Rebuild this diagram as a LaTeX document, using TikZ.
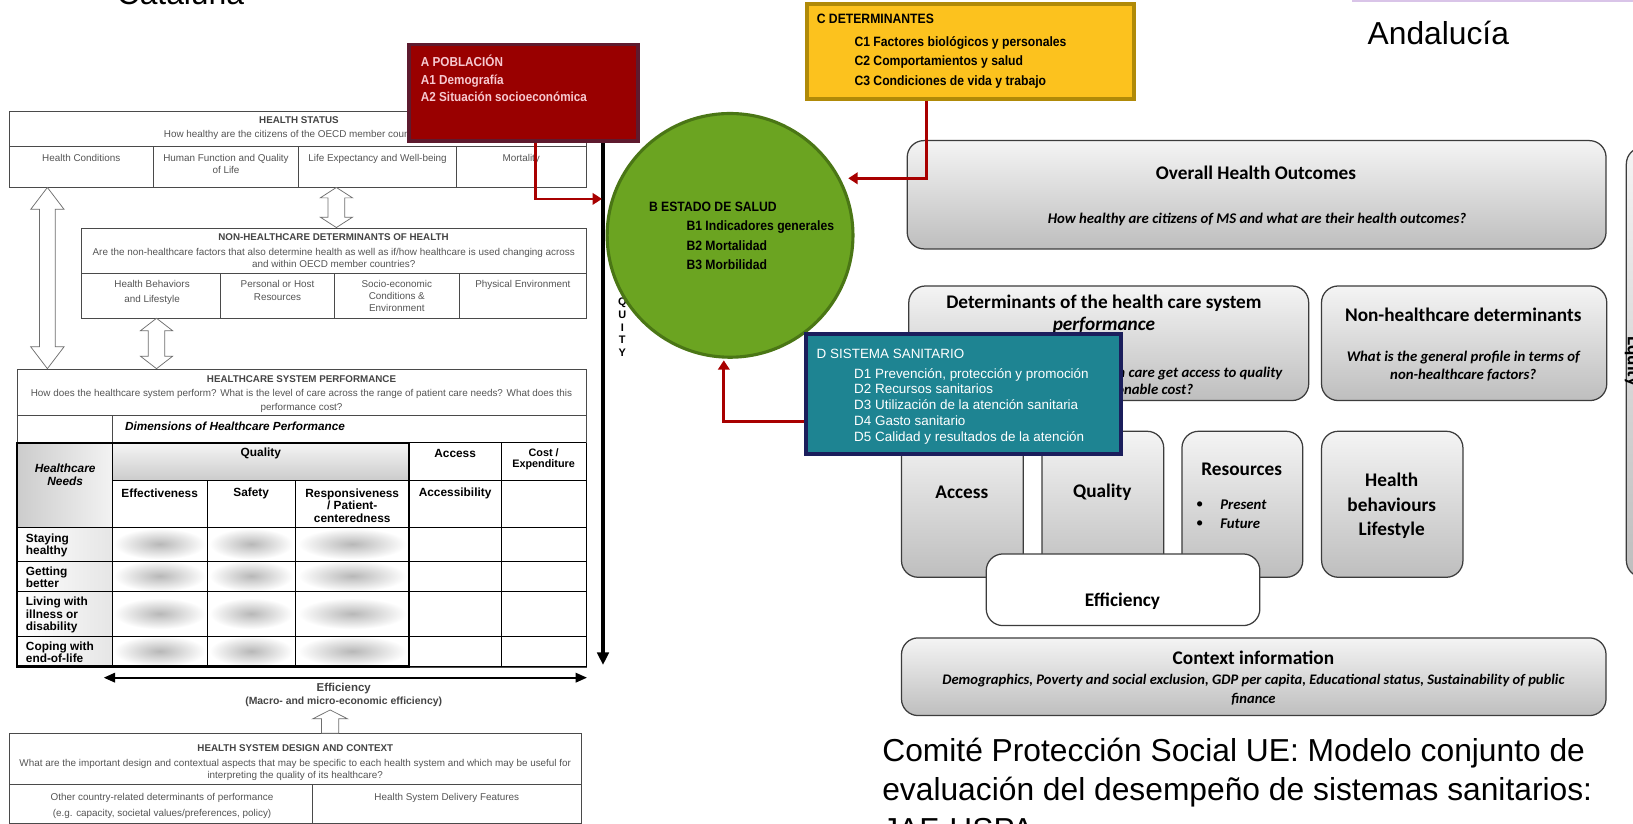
\documentclass[tikz,border=0pt]{standalone}
\usepackage{fontspec}
\setmainfont{Liberation Sans}
\newfontfamily\condf[FakeStretch=0.9]{Liberation Sans}
\newfontfamily\calf{Carlito}
\usetikzlibrary{arrows.meta,shapes.geometric,calc}
\definecolor{gline}{HTML}{4A4A4A}
\definecolor{gtext}{HTML}{555555}
\definecolor{redfill}{HTML}{990000}
\definecolor{redbord}{HTML}{5E1A2E}
\definecolor{atext}{HTML}{F6C9D0}
\definecolor{grfill}{HTML}{6BA421}
\definecolor{grbord}{HTML}{4A7615}
\definecolor{yefill}{HTML}{FCC21E}
\definecolor{yebord}{HTML}{B08A08}
\definecolor{tefill}{HTML}{1E8492}
\definecolor{tebord}{HTML}{1B1E5C}
\definecolor{redc}{HTML}{A80000}
\definecolor{rtop}{HTML}{F4F4F4}
\definecolor{rbot}{HTML}{BEBEBE}
\definecolor{rbord}{HTML}{3C3C3C}
\definecolor{purp}{HTML}{D9C4E8}
\newcommand\mybox[6]{\node[#1,anchor=north west,minimum width=#4pt-#2pt,minimum height=#5pt-#3pt,inner sep=0pt] (#6) at (#2,#3) {};}
\newcommand\vdarrow[6]{\draw[hollow] (#1,#2) -- (#1+#4,#2+#6) -- (#1+#5,#2+#6) -- (#1+#5,#3-#6) -- (#1+#4,#3-#6) -- (#1,#3) -- (#1-#4,#3-#6) -- (#1-#5,#3-#6) -- (#1-#5,#2+#6) -- (#1-#4,#2+#6) -- cycle;}
\newcommand\vuarrow[6]{\draw[hollow] (#1,#2) -- (#1+#4,#2+#6) -- (#1+#5,#2+#6) -- (#1+#5,#3) -- (#1-#5,#3) -- (#1-#5,#2+#6) -- (#1-#4,#2+#6) -- cycle;}
\begin{document}
\begin{tikzpicture}[x=1pt,y=-1pt,
  gbox/.style={draw=gline,line width=0.8pt,fill=white},
  gl/.style={draw=gline,line width=0.8pt},
  tl/.style={draw=black,line width=0.8pt},
  gt/.style={text=gtext,inner sep=0pt,font=\fontsize{9.5}{12.2}\selectfont,align=center},
  gtb/.style={text=gtext!80!black,inner sep=0pt,font=\bfseries\fontsize{9.4}{11}\selectfont},
  tbl/.style={inner sep=0pt,font=\bfseries\fontsize{11.4}{11.8}\selectfont,align=center},
  tbll/.style={inner sep=0pt,font=\bfseries\fontsize{11.4}{11.6}\selectfont,align=left,anchor=north west},
  hollow/.style={draw=gline!80,fill=white,line width=0.7pt},
  redarr/.style={draw=redc,line width=2.6pt,-{Triangle[length=9pt,width=11pt]}},
  rbox/.style={draw=rbord,line width=1.2pt,rounded corners=16pt,top color=rtop,bottom color=rbot},
  rboxw/.style={draw=rbord,line width=1.2pt,rounded corners=16pt,fill=white},
  rt/.style={font=\calf\bfseries\fontsize{18.5}{22}\selectfont,inner sep=0pt,align=center},
  rs/.style={font=\calf\bfseries\itshape\fontsize{14.2}{17.5}\selectfont,inner sep=0pt,align=center},
  cond/.style={font=\condf\bfseries\fontsize{13}{18}\selectfont,inner sep=0pt,align=left},
  bigt/.style={font=\fontsize{30.5}{36}\selectfont,inner sep=0pt}]
\useasboundingbox (0,0) rectangle (1568,791);
\fill[white] (0,0) rectangle (1568,791);
% ---------- titles
\node[bigt,anchor=base west] (catT) at (112,4.8) {Cataluña};
\node[bigt,anchor=base west] (andT) at (1313,43.2) {Andalucía};
\node[bigt,anchor=base west] (com1) at (847,731) {Comité Protección Social UE: Modelo conjunto de};
\node[bigt,anchor=base west] (com2) at (847,769) {evaluación del desempeño de sistemas sanitarios:};
\node[bigt,anchor=base west] (com3) at (847,807) {JAF-HSPA};
\fill[purp] (1297.7,0) rectangle (1568,1.8);
% ---------- HEALTH STATUS
\mybox{gbox}{9}{107}{563}{180}{hs}
\draw[gl] (9,141) -- (563,141);
\foreach \xx in {147,287,438} {\draw[gl] (\xx,141) -- (\xx,180);}
\node[gtb] (hsT) at (287,115.5) {HEALTH STATUS};
\node[gt] (hsS) at (287,130) {How healthy are the citizens of the OECD member countries?};
\node[gt,anchor=north] (hs1) at (78,147.6) {Health Conditions};
\node[gt,anchor=north] (hs2) at (217,147.6) {Human Function and Quality\\of Life};
\node[gt,anchor=north] (hs3) at (362.5,147.6) {Life Expectancy and Well-being};
\node[gt,anchor=north] (hs4) at (500.5,147.6) {Mortality};
% ---------- NON-HEALTHCARE
\mybox{gbox}{78}{218.5}{563}{305.6}{nh}
\draw[gl] (78,262.4) -- (563,262.4);
\foreach \xx in {211.5,321.2,441.1} {\draw[gl] (\xx,262.4) -- (\xx,305.6);}
\node[gtb] (nhT) at (320.2,227.8) {NON-HEALTHCARE DETERMINANTS OF HEALTH};
\node[gt,anchor=north] (nhS) at (320.5,238) {Are the non-healthcare factors that also determine health as well as if/how healthcare is used changing across\\and within OECD member countries?};
\node[gt,anchor=north,font=\fontsize{9.5}{14.4}\selectfont] (nh1) at (146,269.4) {Health Behaviors\\and Lifestyle};
\node[gt,anchor=north,font=\fontsize{9.5}{11.8}\selectfont] (nh2) at (266.5,269.4) {Personal or Host\\Resources};
\node[gt,anchor=north,font=\fontsize{9.5}{11.5}\selectfont] (nh3) at (381,269.4) {Socio-economic\\Conditions \&\\Environment};
\node[gt,anchor=north] (nh4) at (502,269.4) {Physical Environment};
% ---------- HEALTHCARE SYSTEM PERFORMANCE
\mybox{gbox}{16}{354}{563}{640}{hsp}
\node[gtb] (hspT) at (289.5,364) {HEALTHCARE SYSTEM PERFORMANCE};
\node[gt,anchor=north,font=\fontsize{9.5}{12.9}\selectfont] (hspS) at (289.5,374) {How does the healthcare system perform? What is the level of care across the range of patient care needs? What does this\\performance cost?};
\draw[gl] (16,398.5) -- (563,398.5);
\draw[gl] (107.8,398.5) -- (107.8,425);
\node[inner sep=0pt,font=\bfseries\itshape\fontsize{11.3}{12}\selectfont,anchor=west] (dimT) at (120,409.7) {Dimensions of Healthcare Performance};
% shading
\shade[left color=black!20,right color=black!5] (16,425) rectangle (107.8,506.3);
\shade[top color=black!4,bottom color=black!20] (107.8,425) rectangle (392.9,461);
\shade[left color=white,right color=black!10] (16,506.3) rectangle (107.8,640);
% blobs
\foreach \cy in {522.3,553,589.2,625.3} {
  \shade[inner color=black!28,outer color=white] (153.3,\cy) ellipse [x radius=44,y radius=15];
  \shade[inner color=black!28,outer color=white] (241.2,\cy) ellipse [x radius=40,y radius=15];
  \shade[inner color=black!28,outer color=white] (338.2,\cy) ellipse [x radius=52,y radius=15];
}
% grid
\draw[tl] (392.9,425) -- (563,425);
\draw[tl] (107.8,461) -- (563,461);
\foreach \yy in {506.3,538.8,567.8,610.7} {\draw[tl] (16,\yy) -- (563,\yy);}
\draw[tl] (107.8,425) -- (107.8,640);
\draw[tl] (198.9,461) -- (198.9,640);
\draw[tl] (283.6,461) -- (283.6,640);
\draw[tl] (481.3,425) -- (481.3,640);
\draw[tl] (563,425) -- (563,640);
\draw[tl] (392.9,640) -- (563,640);
\draw[line width=2pt] (16,425) rectangle (392.9,640);
% table text
\node[tbl] (qT) at (250.4,435.3) {Quality};
\node[tbl] (acT) at (437,435.3) {Access};
\node[tbl,anchor=north,font=\bfseries\fontsize{10.4}{11}\selectfont] (costT) at (522,430.6) {Cost /\\Expenditure};
\node[tbl,anchor=north,font=\bfseries\itshape\fontsize{11.4}{12.1}\selectfont] (needT) at (62.6,445.4) {Healthcare\\Needs};
\node[tbl] (effC) at (153.3,473.5) {Effectiveness};
\node[tbl] (safC) at (241.2,473.5) {Safety};
\node[tbl,anchor=north] (resC) at (338.2,469.2) {Responsiveness\\/ Patient-\\centeredness};
\node[tbl] (accC) at (437,473.5) {Accessibility};
\node[tbll,font=\bfseries\fontsize{11.4}{11.1}\selectfont] (r1) at (24.7,512.6) {Staying\\healthy};
\node[tbll] (r2) at (24.7,543.7) {Getting\\better};
\node[tbll,font=\bfseries\fontsize{11.4}{11.7}\selectfont] (r3) at (24.7,573.4) {Living with\\illness or\\disability};
\node[tbll,font=\bfseries\fontsize{11.4}{11.7}\selectfont] (r4) at (24.7,616) {Coping with\\end-of-life};
% ---------- hollow arrows
\vdarrow{45.5}{180}{354}{16}{7.5}{21}
\vdarrow{323}{180}{218.5}{15.5}{8}{10}
\vdarrow{150.3}{305.6}{354}{15.5}{8}{12}
% ---------- efficiency
\coordinate (effL) at (99.5,650.7);
\coordinate (effR) at (563.7,650.7);
\draw[line width=2.2pt,{Triangle[length=11pt,width=9pt]}-{Triangle[length=11pt,width=9pt]}] (effL) -- (effR);
\node[inner sep=0pt,text=gtext!80!black,font=\bfseries\fontsize{11}{12}\selectfont] (effT) at (330,661.6) {Efficiency};
\node[inner sep=0pt,text=gtext!80!black,font=\bfseries\fontsize{10}{12}\selectfont] (effS) at (330,673.7) {(Macro- and micro-economic efficiency)};
% ---------- bottom box
\mybox{gbox}{9}{704}{558}{790}{hsd}
\vuarrow{317}{681.7}{704}{16.7}{8.2}{8.5}
\draw[gl] (9,753.5) -- (558,753.5);
\draw[gl] (300,753.5) -- (300,790);
\node[gtb] (hsdT) at (283.5,718) {HEALTH SYSTEM DESIGN AND CONTEXT};
\node[gt,anchor=north,font=\fontsize{9.5}{11.5}\selectfont] (hsdS) at (283.5,728.5) {What are the important design and contextual aspects that may be specific to each health system and which may be useful for\\interpreting the quality of its healthcare?};
\node[gt,anchor=north,font=\fontsize{9.5}{15.5}\selectfont] (hsd1) at (155.6,761.5) {Other country-related determinants of performance\\(e.g. capacity, societal values/preferences, policy)};
\node[gt,anchor=north] (hsd2) at (429,761.5) {Health System Delivery Features};
% ---------- right framework
\mybox{rbox}{870.5}{134.4}{1541.5}{238.4}{ov}
\node[rt] (ovT) at (1206,166.4) {Overall Health Outcomes};
\node[rs] (ovS) at (1207,211.2) {How healthy are citizens of MS and what are their health outcomes?};
\mybox{rbox}{872}{274}{1256}{384}{det}
\node[rt,anchor=north,font=\calf\bfseries\fontsize{18.5}{21}\selectfont] (detT) at (1060,283) {Determinants of the health care system\\\textit{performance}};
\node[rs,anchor=east] (detS1) at (1231.6,358.5) {Do people in need of health care get access to quality};
\node[rs,anchor=east] (detS2) at (1145.8,373.5) {health care at reasonable cost?};
\mybox{rbox}{1268.3}{274}{1542.2}{384}{nhc}
\node[rt] (nhcT) at (1405,302.5) {Non-healthcare determinants};
\node[rs,anchor=north] (nhcS) at (1405,336.5) {What is the general profile in terms of\\non-healthcare factors?};
\mybox{rbox}{865}{413.5}{982}{553.7}{acc}
\node[rt] (accT) at (923.5,473) {Access};
\mybox{rbox}{1000}{413.5}{1116.8}{553.7}{qua}
\node[rt] (quaT) at (1058.4,473) {Quality};
\mybox{rbox}{1134.3}{413.5}{1250.3}{553.7}{res}
\node[rt] (resT) at (1192.3,450.3) {Resources};
\node[inner sep=0pt,font=\calf\fontsize{14}{16}\selectfont] (bu1) at (1152,484.9) {•};
\node[inner sep=0pt,font=\calf\fontsize{14}{16}\selectfont] (bu2) at (1152,503.1) {•};
\node[rs,anchor=west] (pr1) at (1171.5,484.9) {Present};
\node[rs,anchor=west] (pr2) at (1171.5,503.1) {Future};
\mybox{rbox}{1268.4}{413.5}{1404.1}{553.7}{hb}
\node[rt,anchor=north,font=\calf\bfseries\fontsize{18.5}{23.6}\selectfont] (hbT) at (1336.3,453.9) {Health\\behaviours\\Lifestyle};
\mybox{rboxw}{946.4}{531.3}{1209.1}{600.1}{eff}
\node[rt] (effT2) at (1077.8,577.7) {Efficiency};
\mybox{rbox}{865}{611.9}{1541.5}{686.5}{ctx}
\node[rt] (ctxT) at (1203.5,632) {Context information};
\node[rs,anchor=north,font=\calf\bfseries\itshape\fontsize{14}{17.6}\selectfont] (ctxS) at (1203.5,647.6) {Demographics, Poverty and social exclusion, GDP per capita, Educational status, Sustainability of public\\finance};
\mybox{rbox}{1561}{140.8}{1610}{553.7}{eqb}
\node[rt,rotate=-90,anchor=base] (eqT) at (1563,347) {Equity};
% ---------- B ellipse
\node[font=\bfseries\fontsize{10.5}{12.2}\selectfont,inner sep=0pt,align=center,anchor=north] (eqL) at (597.5,286) {Q\\U\\I\\T\\Y};
\node[ellipse,draw=grbord,fill=grfill,line width=3pt,minimum width=236pt,minimum height=234pt,inner sep=0pt] (circB) at (701,226) {};
\node[cond,anchor=north west] (bT) at (623,193.5) {B ESTADO DE SALUD};
\node[cond,anchor=north west,font=\condf\bfseries\fontsize{13}{18.6}\selectfont] (bL) at (659,212) {B1 Indicadores generales\\B2 Mortalidad\\B3 Morbilidad};
% ---------- A box
\mybox{draw=redbord,fill=redfill,line width=3.5pt}{391}{41}{610.7}{133.8}{boxA}
\node[cond,text=atext,anchor=north west,font=\condf\bfseries\fontsize{12.5}{16.6}\selectfont] (aT) at (404,53) {A POBLACIÓN\\A1 Demografía\\A2 Situación socioeconómica};
\coordinate (eqEnd) at (579,638.5);
\draw[line width=3.2pt,-{Triangle[length=12pt,width=11pt]}] (eqEnd |- boxA.south) -- (eqEnd);
% ---------- C box
\mybox{draw=yebord,fill=yefill,line width=4pt}{772.9}{1.6}{1086.6}{92.8}{boxC}
\node[cond,anchor=north west] (cT) at (784.1,13.7) {C DETERMINANTES};
\node[cond,anchor=north west,font=\condf\bfseries\fontsize{13}{18.4}\selectfont] (cL) at (820.3,35.1) {C1 Factores biológicos y personales\\C2 Comportamientos y salud\\C3 Condiciones de vida y trabajo};
% ---------- D box
\mybox{draw=tebord,fill=tefill,line width=4pt}{772}{319}{1074.5}{434}{boxD}
\node[anchor=north west,inner sep=0pt,text=white,font=\fontsize{12.9}{15.3}\selectfont] (dT) at (784,335.5) {D SISTEMA SANITARIO};
\node[anchor=north west,inner sep=0pt,text=white,align=left,font=\fontsize{12.9}{15.3}\selectfont] (dL) at (820,353.3) {D1 Prevención, protección y promoción\\D2 Recursos sanitarios\\D3 Utilización de la atención sanitaria\\D4 Gasto sanitario\\D5 Calidad y resultados de la atención};
% ---------- red connectors
\coordinate (aKnee) at (514.4,191);
\coordinate (aEnd) at (578,191);
\draw[redarr] (aKnee |- boxA.south) -- (aKnee) -- (aEnd);
\coordinate (cKnee) at (889.7,171.2);
\coordinate (cEnd) at (814.5,171.2);
\draw[redarr] (cKnee |- boxC.south) -- (cKnee) -- (cEnd);
\coordinate (dKnee) at (695,405);
\coordinate (dEnd) at (695,346);
\draw[redarr] (boxD.west |- dKnee) -- (dKnee) -- (dEnd);
\end{tikzpicture}
\end{document}
